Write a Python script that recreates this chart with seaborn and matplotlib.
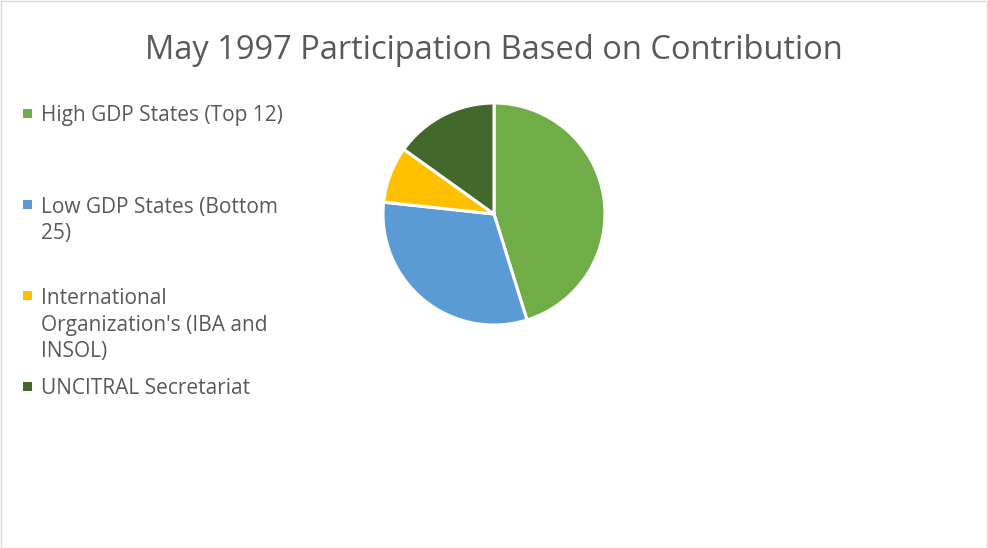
import matplotlib
matplotlib.use("Agg")
import matplotlib.pyplot as plt
from matplotlib.patches import Rectangle
import seaborn as sns

# Data
categories = ["High GDP States (Top 12)", "Low GDP States (Bottom 25)",
              "International Organization's (IBA and INSOL)", "UNCITRAL Secretariat"]
legend_lines = [["High GDP States (Top 12)"], ["Low GDP States (Bottom", "25)"],
                ["International", "Organization's (IBA and", "INSOL)"], ["UNCITRAL Secretariat"]]
values = [45.2, 31.5, 8.2, 15.1]
colors = ["#70AD47", "#5B9BD5", "#FFC000", "#43682B"]
title = "May 1997 Participation Based on Contribution"

sns.set_theme(style="white")
plt.rcParams['font.family'] = ['Open Sans', 'DejaVu Sans']

W, H = 988, 548
fig = plt.figure(figsize=(W / 100, H / 100), dpi=100)
fig.patch.set_facecolor("white")

cx, cy, r = 494, 214, 111
ax = fig.add_axes([(cx - r) / W, (H - cy - r) / H, 2 * r / W, 2 * r / H])
ax.pie(values, colors=sns.color_palette(colors), startangle=90, counterclock=False,
       wedgeprops=dict(edgecolor="white", linewidth=2.2), radius=1)
ax.set_xlim(-1.0, 1.0)
ax.set_ylim(-1.0, 1.0)
ax.set_aspect("equal")
ax.axis("off")

fig.text(cx / W, 1 - 50 / H, title, ha="center", va="center", fontsize=23.5, color="#595959")

# Legend (manual, to mimic Excel spacing)
first_line_y = [114, 205, 296, 387]
line_h = 27
for lines, col, y in zip(legend_lines, colors, first_line_y):
    fig.patches.append(Rectangle((23 / W, 1 - (y + 4) / H), 9 / W, 9 / H,
                                 transform=fig.transFigure, facecolor=col, edgecolor="none"))
    for i, ln in enumerate(lines):
        fig.text(41 / W, 1 - (y + 2 + i * line_h) / H, ln, ha="left", va="center",
                 fontsize=15, color="#595959")

fig.patches.append(Rectangle((0.5 / W, 0.5 / H), 1 - 1.5 / W, 1 - 1.5 / H,
                             transform=fig.transFigure, facecolor="none",
                             edgecolor="#D9D9D9", linewidth=1))

fig.savefig("out.png", dpi=100)
